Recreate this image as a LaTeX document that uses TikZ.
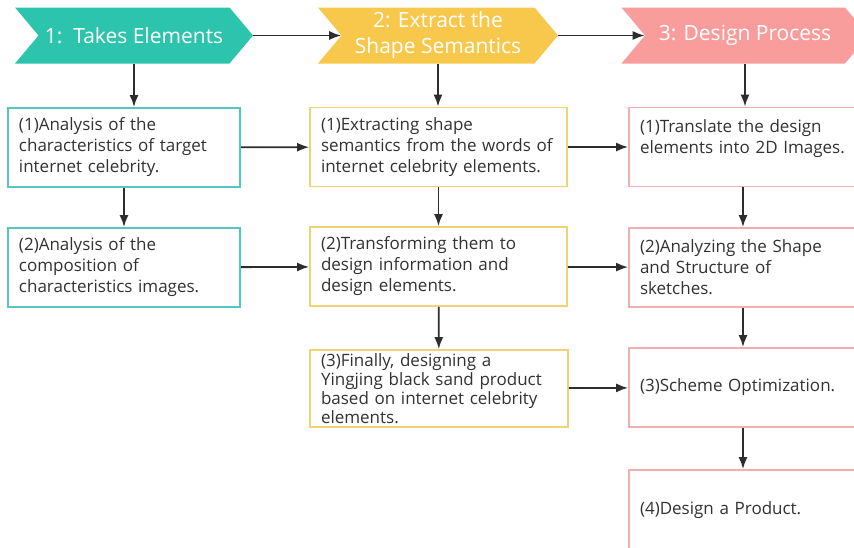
\documentclass[tikz,border=0pt]{standalone}
\usepackage{fontspec}
\setmainfont{Open Sans}
\usetikzlibrary{shapes.symbols, arrows.meta}
\definecolor{myteal}{RGB}{44,196,172}
\definecolor{myyellow}{RGB}{248,200,76}
\definecolor{mypink}{RGB}{248,156,156}
\definecolor{tealline}{RGB}{84,200,192}
\definecolor{yellowline}{RGB}{240,210,120}
\definecolor{pinkline}{RGB}{238,176,176}
\definecolor{mytext}{RGB}{50,50,50}
\definecolor{myarrow}{RGB}{45,45,45}
\tikzset{>={Latex[length=12pt,width=9pt]}}

\begin{document}
\begin{tikzpicture}[x=1pt, y=-1pt,
  head/.style={signal, signal from=west, signal to=east, signal pointer angle=100,
    minimum height=56pt, inner sep=0pt, text=white, align=center,
    font=\fontsize{21}{25}\selectfont},
  box/.style={draw, line width=1.8pt, minimum height=79pt, inner xsep=11pt,
    inner ysep=2pt, align=left, text=mytext, font=\fontsize{17}{21}\selectfont},
  link/.style={->, draw=myarrow, line width=1.8pt}]
\fill[white] (0,0) rectangle (854,547);
\useasboundingbox (0,0) rectangle (854,547);

% the three steps
\node[head, fill=myteal, minimum width=238pt] (h1) at (134,35.5) {1:\ \ Takes Elements};
\node[head, fill=myyellow, minimum width=240pt] (h2) at (438,35.5) {2: Extract the\\[1pt]Shape Semantics};
\node[head, fill=mypink, minimum width=247pt] (h3) at (745,35.5) {3: Design Process};

% column 1
\node[box, draw=tealline, text width=210pt] (a1) at (124,147.5) {(1)Analysis of the\\characteristics of target\\internet celebrity.};
\node[box, draw=tealline, text width=210pt] (a2) at (124,267.5) {(2)Analysis of the\\composition of\\characteristics images.};

% column 2
\node[box, draw=yellowline, text width=235pt] (b1) at (438.5,147) {(1)Extracting shape\\semantics from the words of\\internet celebrity elements.};
\node[box, draw=yellowline, text width=235pt] (b2) at (438.5,266.5) {(2)Transforming them to\\design information and\\design elements.};
\node[box, draw=yellowline, text width=236pt, minimum height=77pt, inner ysep=0pt,
  font=\fontsize{17}{19}\selectfont] (b3) at (439,388.5) {(3)Finally, designing a\\Yingjing black sand product\\based on internet celebrity\\elements.};

% column 3
\node[box, draw=pinkline, text width=206pt] (c1) at (743,147) {(1)Translate the design\\elements into 2D Images.\\\mbox{}};
\node[box, draw=pinkline, text width=206pt] (c2) at (743,267.5) {(2)Analyzing the Shape\\and Structure of\\sketches.};
\node[box, draw=pinkline, text width=206pt] (c3) at (743,387.5) {(3)Scheme Optimization.};
\node[box, draw=pinkline, text width=206pt, minimum height=80pt] (c4) at (743,510) {(4)Design a Product.};

% arrows
\draw[link] (h1.east) -- (h2.west);
\draw[link] (h2.east) -- (h3.west);
\draw[link] (h1.south) -- (h1.south |- a1.north);
\draw[link] (h2.south) -- (h2.south |- b1.north);
\draw[link] (h3.south) -- (h3.south |- c1.north);
\draw[link] (a1) -- (a2);
\draw[link] (b1) -- (b2);
\draw[link] (b2) -- (b3);
\draw[link] (c1) -- (c2);
\draw[link] (c2) -- (c3);
\draw[link] (c3) -- (c4);
\draw[link] (a1) -- (b1);
\draw[link] (a2) -- (b2);
\draw[link] (b1) -- (c1);
\draw[link] (b2) -- (c2);
\draw[link] (b3) -- (c3);
\end{tikzpicture}
\end{document}
